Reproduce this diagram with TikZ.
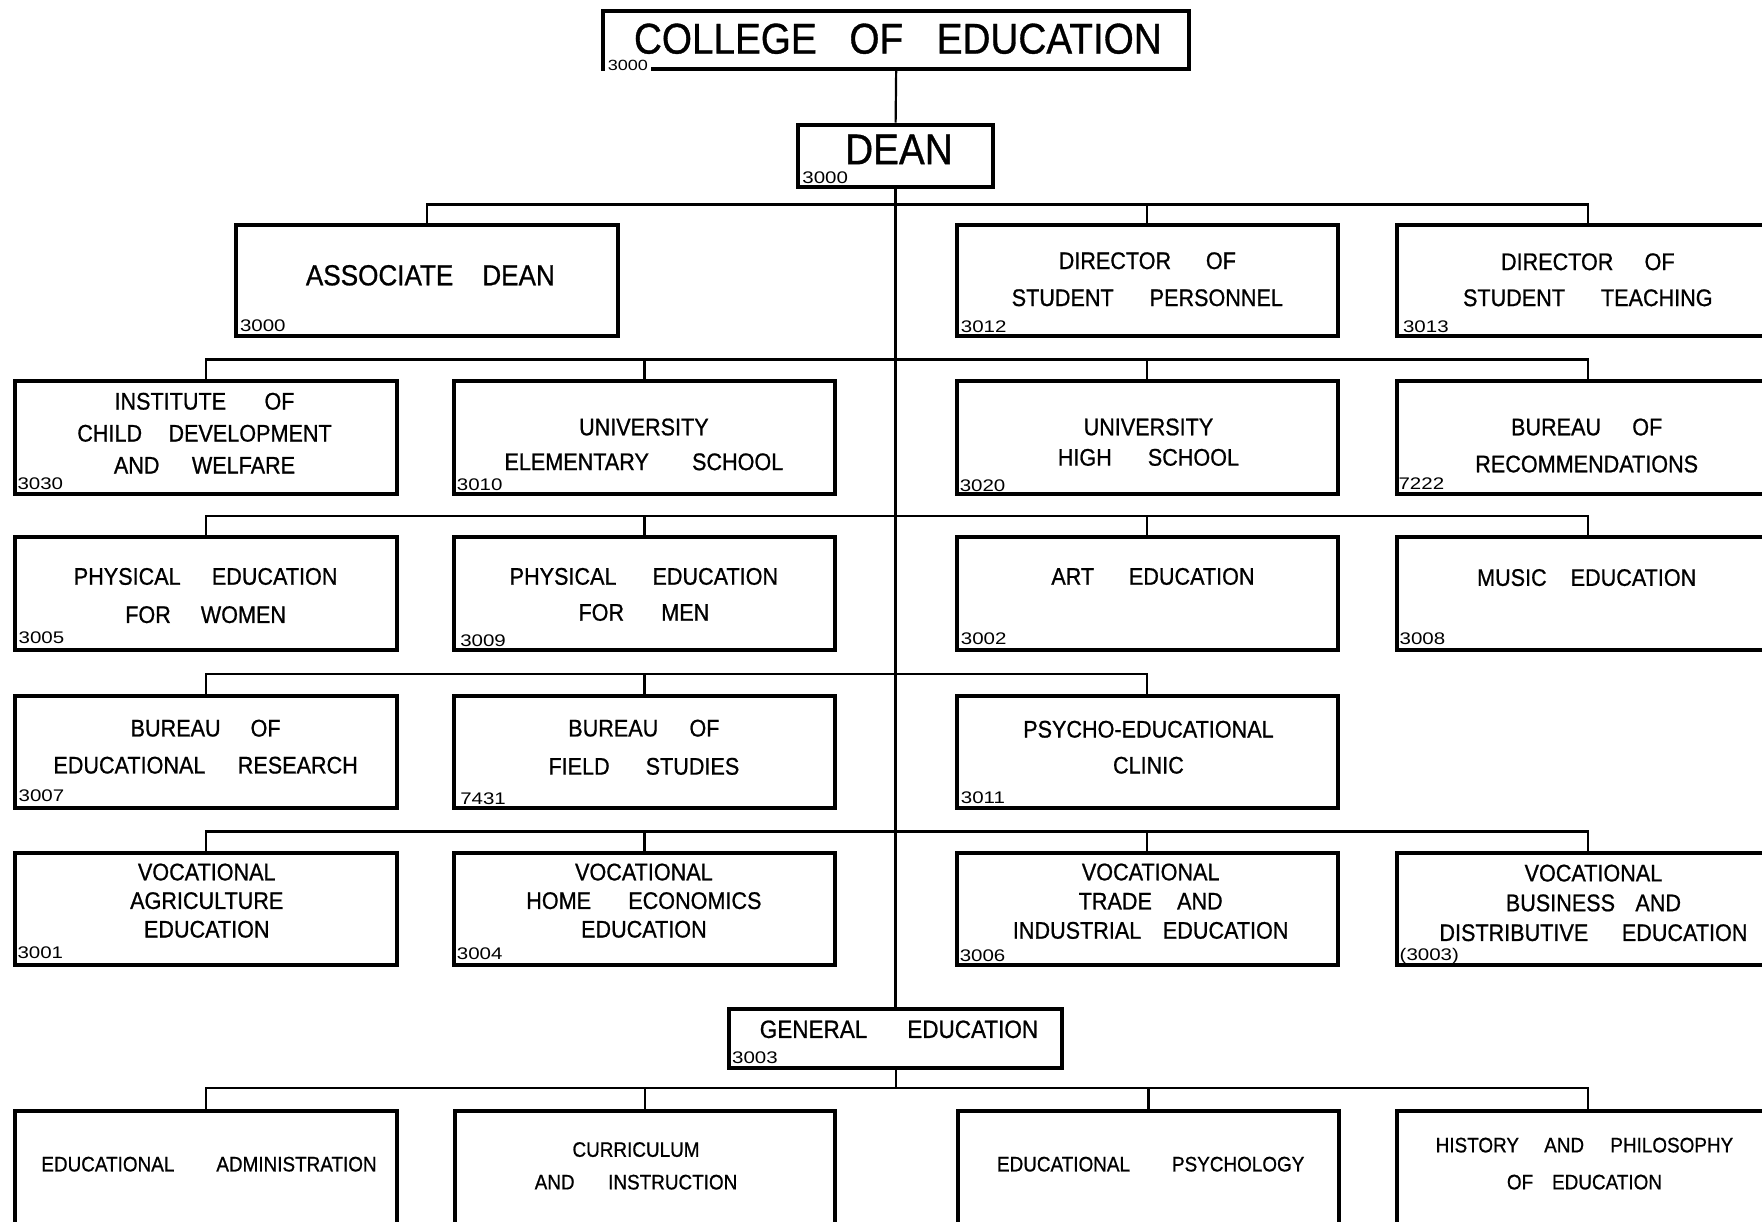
\documentclass[tikz,border=0pt]{standalone}
\usepackage{fontspec}
\setmainfont[FakeStretch=0.9,FakeBold=0.8]{Liberation Sans}
\newfontfamily\lblfont[FakeStretch=1.22]{Liberation Sans}
\newcommand\gp[1][1.3]{\hspace{#1em}}
\begin{document}
\begin{tikzpicture}[x=0.5619pt, y=-0.5619pt,
  box/.style 2 args={draw, line width=2pt, rectangle, inner sep=0pt,
    minimum width={#1*0.5619pt}, minimum height={#2*0.5619pt}},
  conn/.style={line width=1.1pt},
  spine/.style={line width=1.4pt},
  lbl/.style={font=\lblfont\fontsize{8.4pt}{9pt}\selectfont, inner sep=0pt, anchor=south west},
  tx/.style 2 args={font=\fontsize{#1pt}{#2pt}\selectfont, align=center, inner sep=0pt},
]
\useasboundingbox (0,0) rectangle (1568,1087);
\fill[white] (0,0) rectangle (1568,1087);
\clip (0,0) rectangle (1568,1087);

% bus levels
\coordinate (b1) at (0,182);
\coordinate (b2) at (0,320);
\coordinate (b3) at (0,459);
\coordinate (b4) at (0,600);
\coordinate (b5) at (0,740);
\coordinate (b6) at (0,968);

% boxes
\node[box={521}{51}] (college) at (797.5,35.5) {};
\node[box={173}{55}] (dean) at (797,138.5) {};

\node[box={340}{99}] (assoc) at (380,249.5) {};
\node[box={339}{99}] (dsp) at (1021,249.5) {};
\node[box={340}{99}] (dst) at (1413,249.5) {};

\node[box={340}{101}] (inst) at (183,389.5) {};
\node[box={339}{101}] (ues) at (573.5,389.5) {};
\node[box={339}{101}] (uhs) at (1021,389.5) {};
\node[box={340}{101}] (bor) at (1413,389.5) {};

\node[box={340}{100}] (pew) at (183,528) {};
\node[box={339}{100}] (pem) at (573.5,528) {};
\node[box={339}{100}] (art) at (1021,528) {};
\node[box={340}{100}] (mus) at (1413,528) {};

\node[box={340}{100}] (ber) at (183,669) {};
\node[box={339}{100}] (bfs) at (573.5,669) {};
\node[box={339}{100}] (pec) at (1021,669) {};

\node[box={340}{100}] (vae) at (183,809) {};
\node[box={339}{100}] (vhe) at (573.5,809) {};
\node[box={339}{100}] (vti) at (1021,809) {};
\node[box={340}{100}] (vbd) at (1413,809) {};

\node[box={296}{52}] (ge) at (797,924) {};

\node[box={340}{111}] (ea) at (183,1044.5) {};
\node[box={339}{111}] (ci) at (574,1044.5) {};
\node[box={339}{111}] (ep) at (1022,1044.5) {};
\node[box={340}{111}] (hpe) at (1413,1044.5) {};

% connectors
\draw[conn] (college.south) -- (dean.north);
\draw[spine] (dean.south) -- (ge.north);

\draw[conn] (assoc.north) -- (assoc.north |- b1) -- (dst.north |- b1) -- (dst.north);
\draw[conn] (dsp.north) -- (dsp.north |- b1);

\draw[conn] (inst.north) -- (inst.north |- b2) -- (bor.north |- b2) -- (bor.north);
\draw[conn] (ues.north) -- (ues.north |- b2);
\draw[conn] (uhs.north) -- (uhs.north |- b2);

\draw[conn] (pew.north) -- (pew.north |- b3) -- (mus.north |- b3) -- (mus.north);
\draw[conn] (pem.north) -- (pem.north |- b3);
\draw[conn] (art.north) -- (art.north |- b3);

\draw[conn] (ber.north) -- (ber.north |- b4) -- (pec.north |- b4) -- (pec.north);
\draw[conn] (bfs.north) -- (bfs.north |- b4);

\draw[conn] (vae.north) -- (vae.north |- b5) -- (vbd.north |- b5) -- (vbd.north);
\draw[conn] (vhe.north) -- (vhe.north |- b5);
\draw[conn] (vti.north) -- (vti.north |- b5);

\draw[conn] (ge.south) -- (ge.south |- b6);
\draw[conn] (ea.north) -- (ea.north |- b6) -- (hpe.north |- b6) -- (hpe.north);
\draw[conn] (ci.north) -- (ci.north |- b6);
\draw[conn] (ep.north) -- (ep.north |- b6);

% texts
\node[tx={21.5}{24}] (t-college) at (799,34.5) {COLLEGE\gp[0.76]OF\gp[0.78]EDUCATION};
\node[tx={21.5}{24}] (t-dean) at (800,133) {DEAN};

\node[tx={14.5}{18}] (t-assoc) at (383,245) {ASSOCIATE\gp[1]DEAN};
\node[tx={12}{18.5}] (t-dsp) at (1021,248.5) {DIRECTOR\gp[1.45]OF\\STUDENT\gp[1.5]PERSONNEL};
\node[tx={12}{18}] (t-dst) at (1413,249) {DIRECTOR\gp[1.3]OF\\STUDENT\gp[1.5]TEACHING};

\node[tx={12}{16}] (t-inst) at (182,385.5) {INSTITUTE\gp[1.6]OF\\CHILD\gp[1.1]DEVELOPMENT\\AND\gp[1.35]WELFARE};
\node[tx={12}{17.4}] (t-ues) at (573,395.5) {UNIVERSITY\\ELEMENTARY\gp[1.8]SCHOOL};
\node[tx={12}{15.2}] (t-uhs) at (1022,393.5) {UNIVERSITY\\HIGH\gp[1.5]SCHOOL};
\node[tx={12}{18.5}] (t-bor) at (1412,396.5) {BUREAU\gp[1.3]OF\\RECOMMENDATIONS};

\node[tx={12}{19.1}] (t-pew) at (183,530) {PHYSICAL\gp[1.3]EDUCATION\\FOR\gp[1.25]WOMEN};
\node[tx={12}{18}] (t-pem) at (573,529) {PHYSICAL\gp[1.5]EDUCATION\\FOR\gp[1.55]MEN};
\node[tx={12}{18}] (t-art) at (1026,513) {ART\gp[1.45]EDUCATION};
\node[tx={12}{18}] (t-mus) at (1412,514) {MUSIC\gp[1]EDUCATION};

\node[tx={12}{18.5}] (t-ber) at (183,664.5) {BUREAU\gp[1.25]OF\\EDUCATIONAL\gp[1.35]RESEARCH};
\node[tx={12}{19.1}] (t-bfs) at (573,665) {BUREAU\gp[1.3]OF\\FIELD\gp[1.5]STUDIES};
\node[tx={12}{18}] (t-pec) at (1022,665) {PSYCHO-EDUCATIONAL\\CLINIC};

\node[tx={12}{14.3}] (t-vae) at (184,801.5) {VOCATIONAL\\AGRICULTURE\\EDUCATION};
\node[tx={12}{14.3}] (t-vhe) at (573,801.5) {VOCATIONAL\\HOME\gp[1.55]ECONOMICS\\EDUCATION};
\node[tx={12}{14.6}] (t-vti) at (1024,802) {VOCATIONAL\\TRADE\gp[1.05]AND\\INDUSTRIAL\gp[0.9]EDUCATION};
\node[tx={12}{14.9}] (t-vbd) at (1418,803.5) {VOCATIONAL\\BUSINESS\gp[0.85]AND\\DISTRIBUTIVE\gp[1.4]EDUCATION};

\node[tx={12.5}{16}] (t-ge) at (800,916) {GENERAL\gp[1.6]EDUCATION};

\node[tx={10.5}{14}] (t-ea) at (186,1036) {EDUCATIONAL\gp[2]ADMINISTRATION};
\node[tx={10.5}{16.3}] (t-ci) at (566,1037.5) {CURRICULUM\\AND\gp[1.6]INSTRUCTION};
\node[tx={10.5}{14}] (t-ep) at (1024,1036) {EDUCATIONAL\gp[2]PSYCHOLOGY};
\node[tx={10.5}{18.5}] (t-hpe) at (1410,1035.5) {HISTORY\gp[1.2]AND\gp[1.25]PHILOSOPHY\\OF\gp[0.9]EDUCATION};

% code labels
\node[lbl, font=\lblfont\fontsize{7.4pt}{8pt}\selectfont, fill=white, inner xsep=1.6pt, inner ysep=1.5pt] (l-college) at ([shift={(2.5,3)}]college.south west) {3000};
\node[lbl] (l-dean) at ([shift={(5,-4)}]dean.south west) {3000};
\node[lbl] (l-assoc) at ([shift={(5,-5)}]assoc.south west) {3000};
\node[lbl] (l-dsp) at ([shift={(5,-4)}]dsp.south west) {3012};
\node[lbl] (l-dst) at ([shift={(7,-4)}]dst.south west) {3013};
\node[lbl] (l-inst) at ([shift={(4,-6)}]inst.south west) {3030};
\node[lbl] (l-ues) at ([shift={(4,-5)}]ues.south west) {3010};
\node[lbl] (l-uhs) at ([shift={(4,-4)}]uhs.south west) {3020};
\node[lbl] (l-bor) at ([shift={(3,-6)}]bor.south west) {7222};
\node[lbl] (l-pew) at ([shift={(5,-7)}]pew.south west) {3005};
\node[lbl] (l-pem) at ([shift={(7,-4)}]pem.south west) {3009};
\node[lbl] (l-art) at ([shift={(5,-6)}]art.south west) {3002};
\node[lbl] (l-mus) at ([shift={(4,-6)}]mus.south west) {3008};
\node[lbl] (l-ber) at ([shift={(5,-7)}]ber.south west) {3007};
\node[lbl] (l-bfs) at ([shift={(7,-4)}]bfs.south west) {7431};
\node[lbl] (l-pec) at ([shift={(5,-5)}]pec.south west) {3011};
\node[lbl] (l-vae) at ([shift={(4,-7)}]vae.south west) {3001};
\node[lbl] (l-vhe) at ([shift={(4,-6)}]vhe.south west) {3004};
\node[lbl] (l-vti) at ([shift={(4,-5)}]vti.south west) {3006};
\node[lbl] (l-vbd) at ([shift={(4,-3)}]vbd.south west) {(3003)};
\node[lbl] (l-ge) at ([shift={(4,-5)}]ge.south west) {3003};
\end{tikzpicture}
\end{document}
